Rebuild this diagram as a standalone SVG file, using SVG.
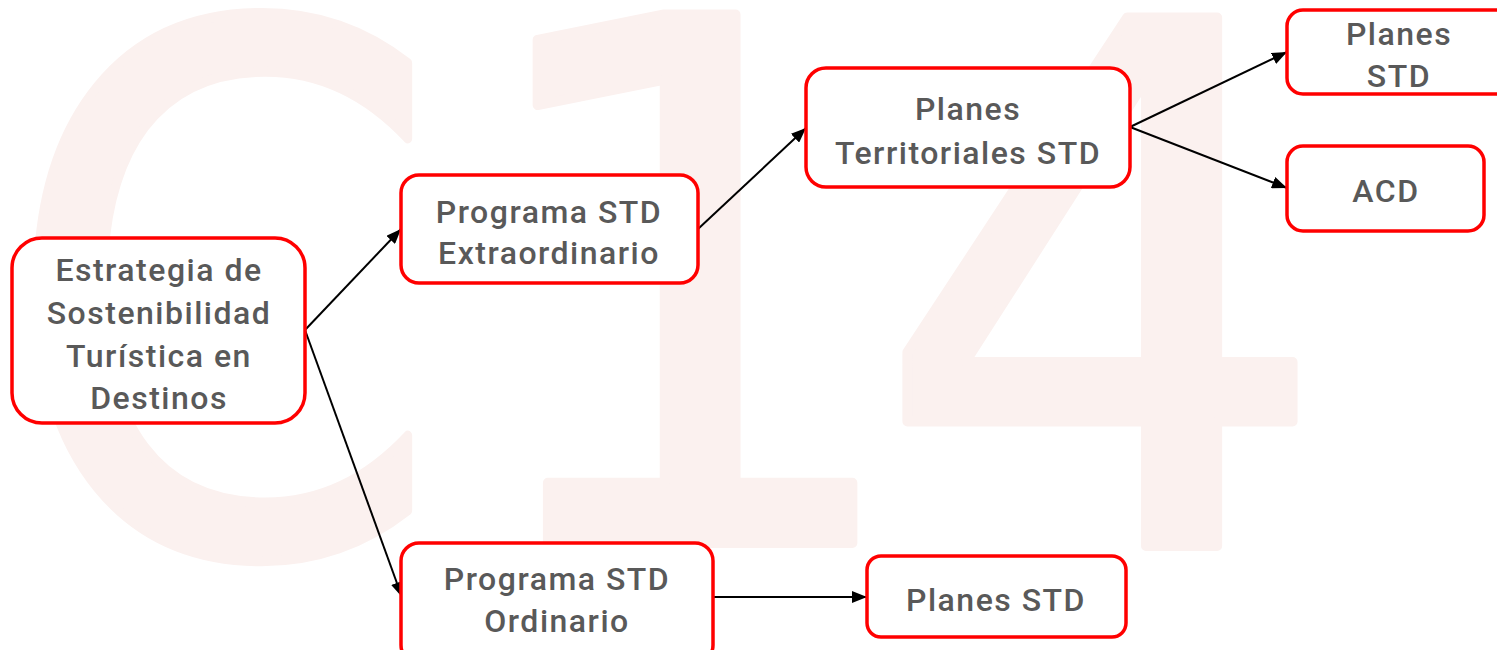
<svg xmlns="http://www.w3.org/2000/svg" width="1497" height="650" viewBox="0 0 1497 650">
<defs>
<style>
.bg{font-family:"DejaVu Sans",sans-serif;font-size:725px;fill:#FBF1EF;stroke:#FBF1EF;stroke-width:10;stroke-linejoin:round}
.node rect{fill:#FFFFFF;stroke:#FF0000;stroke-width:3.5}
.node text{font-family:Roboto,"Liberation Sans",sans-serif;font-size:32px;font-weight:500;letter-spacing:1.5px;fill:#595959;text-anchor:middle}
.conn line{stroke:#000000;stroke-width:2;marker-end:url(#ah)}
</style>
<marker id="ah" viewBox="0 0 15 12" refX="15" refY="6" markerWidth="15" markerHeight="12" markerUnits="userSpaceOnUse" orient="auto">
<path d="M0,0 L15,6 L0,12 z" fill="#000000"/>
</marker>
</defs>
<rect width="1497" height="650" fill="#FFFFFF"/>
<g id="background">
<text class="bg" x="2" y="551" textLength="440" lengthAdjust="spacingAndGlyphs">C</text>
<text class="bg" x="458" y="543">1</text>
<text class="bg" x="872" y="546">4</text>
</g>
<g id="connectors" class="conn">
<line x1="305" y1="330" x2="401" y2="229"/>
<line x1="305" y1="330" x2="402" y2="597"/>
<line x1="698" y1="229" x2="806" y2="128"/>
<line x1="1130" y1="127" x2="1287" y2="52"/>
<line x1="1130" y1="127" x2="1287" y2="188"/>
<line x1="713" y1="597" x2="867" y2="597"/>
</g>
<g id="n1" class="node">
<rect x="12" y="238" width="293" height="185" rx="30"/>
<text x="159" y="281">Estrategia de</text>
<text x="159" y="324">Sostenibilidad</text>
<text x="159" y="367">Turística en</text>
<text x="159" y="409">Destinos</text>
</g>
<g id="n2" class="node">
<rect x="401" y="175" width="297" height="108" rx="18"/>
<text x="549" y="223">Programa STD</text>
<text x="549" y="264">Extraordinario</text>
</g>
<g id="n3" class="node">
<rect x="806" y="68" width="324" height="119" rx="20"/>
<text x="968" y="120">Planes</text>
<text x="968" y="164">Territoriales STD</text>
</g>
<g id="n4" class="node">
<rect x="1287" y="10" width="230" height="84" rx="16"/>
<text x="1399" y="45">Planes</text>
<text x="1399" y="87">STD</text>
</g>
<g id="n5" class="node">
<rect x="1287" y="146" width="197" height="85" rx="16"/>
<text x="1386" y="202">ACD</text>
</g>
<g id="n6" class="node">
<rect x="401" y="543" width="312" height="120" rx="18"/>
<text x="557" y="590">Programa STD</text>
<text x="557" y="632">Ordinario</text>
</g>
<g id="n7" class="node">
<rect x="867" y="556" width="259" height="81" rx="14"/>
<text x="996" y="611">Planes STD</text>
</g>
</svg>
